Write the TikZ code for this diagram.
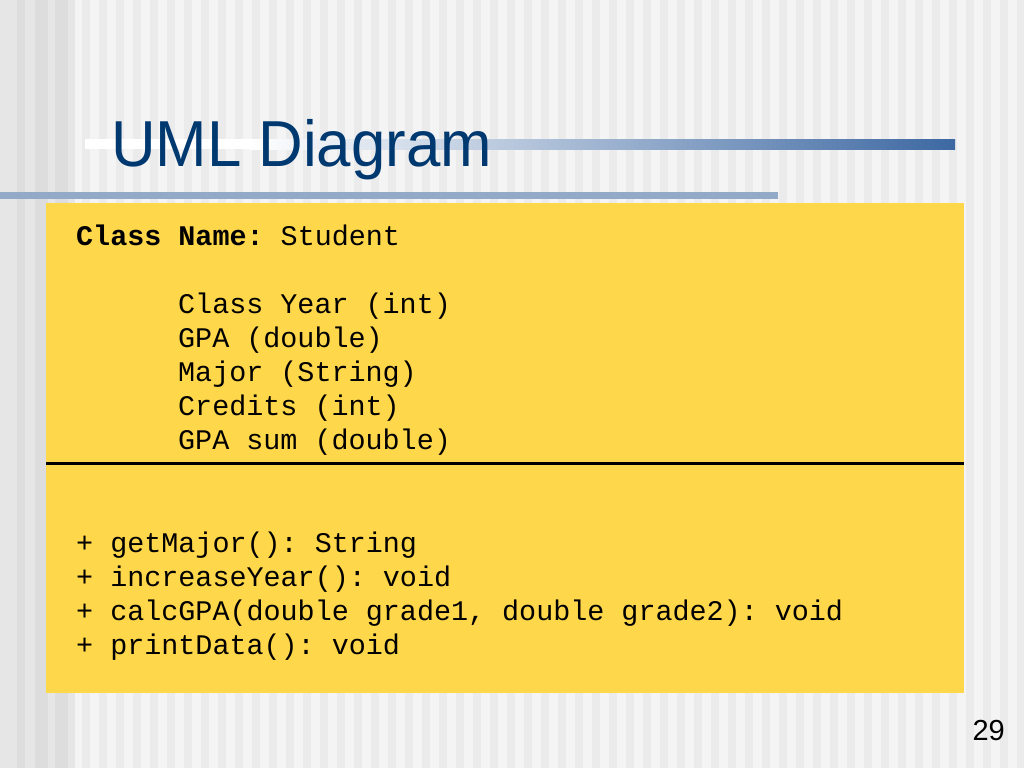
\documentclass[tikz,border=0pt]{standalone}
\usepackage{fontspec}
\setmainfont{Liberation Sans}
\newfontfamily\monofont{Liberation Mono}
\frenchspacing
\definecolor{bgc}{RGB}{244,244,244}
\definecolor{stripec}{RGB}{235,235,235}
\definecolor{leftA}{RGB}{230,230,230}
\definecolor{leftB}{RGB}{221,221,221}
\definecolor{boxyellow}{RGB}{255,215,75}
\definecolor{titleblue}{RGB}{0,56,112}
\definecolor{barblue}{RGB}{61,104,162}
\definecolor{bar2}{RGB}{146,170,199}
\tikzset{
  mono/.style={anchor=base west, inner sep=0pt, font=\monofont\frenchspacing\fontsize{28.4}{34}\selectfont, text=black},
  umlbox/.style={fill=boxyellow, draw=none},
}
\begin{document}
\begin{tikzpicture}[x=1pt,y=-1pt]
\useasboundingbox (0,0) rectangle (1024,768);
% background
\fill[bgc] (0,0) rectangle (1024,768);
\fill[leftA] (0,0) rectangle (75,768);
\foreach \x/\w in {17/8,35/13,55/13}
  \fill[leftB] (\x,0) rectangle ++(\w,768);
\foreach \x in {82,99,...,1020}
  \fill[stripec] (\x,0) rectangle ++(8,768);
% title bars
\fill[white] (85,139) rectangle (250,149);
\shade[left color=white, right color=barblue] (250,139) rectangle (955,149);
\fill[bar2] (0,192) rectangle (778,199);
% title
\node[anchor=base west, inner sep=0pt, text=titleblue, font=\fontsize{65}{70}\selectfont, xscale=0.95] (title) at (111,166) {UML Diagram};
% class box
\node[umlbox, anchor=north west, minimum width=918pt, minimum height=490pt, inner sep=0pt] (box) at (46,203) {};
\coordinate (divL) at (46,463);
\coordinate (divR) at (964,463);
\draw[line width=3pt, black] (divL) -- (divR);
% class name
\node[mono] (cname) at (76,245) {\textbf{Class Name:} Student};
% attributes
\node[mono] (a1) at (178,313) {Class Year (int)};
\node[mono] (a2) at (178,347) {GPA (double)};
\node[mono] (a3) at (178,381) {Major (String)};
\node[mono] (a4) at (178,415) {Credits (int)};
\node[mono] (a5) at (178,449) {GPA sum (double)};
% methods
\node[mono] (m1) at (76,552) {+ getMajor(): String};
\node[mono] (m2) at (76,586) {+ increaseYear(): void};
\node[mono] (m3) at (76,620) {+ calcGPA(double grade1, double grade2): void};
\node[mono] (m4) at (76,654) {+ printData(): void};
% page number
\node[anchor=base east, inner sep=0pt, font=\fontsize{29}{32}\selectfont, text=black] (page) at (1005,740) {29};
\end{tikzpicture}
\end{document}
